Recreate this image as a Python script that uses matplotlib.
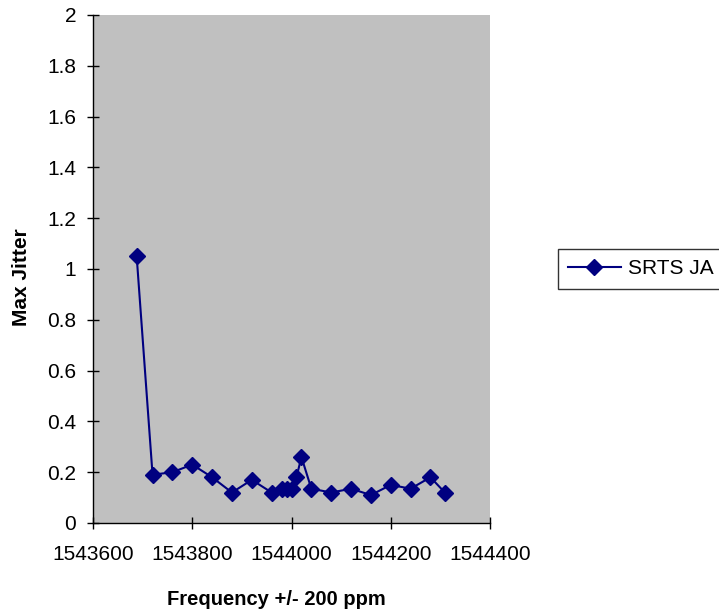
import matplotlib.pyplot as plt

plt.rcParams['font.family'] = ['Liberation Sans', 'DejaVu Sans']

# 주파수 (Hz) 와 최대 지터 값
freq = [1543688, 1543720, 1543760, 1543800, 1543840, 1543880, 1543920,
        1543960, 1543980, 1543990, 1544000, 1544010, 1544020, 1544040,
        1544080, 1544120, 1544160, 1544200, 1544240, 1544280, 1544309]
jitter = [1.05, 0.19, 0.20, 0.23, 0.18, 0.12, 0.17,
          0.12, 0.135, 0.135, 0.135, 0.18, 0.26, 0.135,
          0.12, 0.135, 0.11, 0.15, 0.135, 0.18, 0.12]
series_name = 'SRTS JA'

xticks = [1543600, 1543800, 1544000, 1544200, 1544400]
yticks = [0, 0.2, 0.4, 0.6, 0.8, 1, 1.2, 1.4, 1.6, 1.8, 2]
ytick_labels = ['0', '0.2', '0.4', '0.6', '0.8', '1', '1.2', '1.4', '1.6', '1.8', '2']

fig = plt.figure(figsize=(7.19, 6.15), dpi=100)
ax = fig.add_axes([93 / 719, 1 - 523 / 615, (490 - 93) / 719, (523 - 15) / 615])
ax.set_facecolor('#C0C0C0')

ax.plot(freq, jitter, color='#000080', lw=1.5, marker='D', ms=8,
        markerfacecolor='#000080', markeredgecolor='#000080', label=series_name)

ax.set_xlim(1543600, 1544400)
ax.set_ylim(0, 2)
ax.set_xticks(xticks)
ax.set_xticklabels([str(t) for t in xticks])
ax.set_yticks(yticks)
ax.set_yticklabels(ytick_labels)
ax.tick_params(direction='inout', length=8, width=1, labelsize=15, color='black')
ax.tick_params(axis='y', pad=8)
ax.tick_params(axis='x', pad=12)

for s in ['top', 'right']:
    ax.spines[s].set_visible(False)
for s in ['left', 'bottom']:
    ax.spines[s].set_color('black')
    ax.spines[s].set_linewidth(1)

ax.set_xlabel('Frequency +/- 200 ppm', fontsize=14.5, fontweight='bold')
ax.xaxis.set_label_coords(0.461, -0.132)
ax.set_ylabel('Max Jitter', fontsize=15, fontweight='bold')
ax.yaxis.set_label_coords(-0.155, 0.484)

leg = fig.legend(loc='center left', bbox_to_anchor=(558 / 719, 1 - 269 / 615),
                 fontsize=15, frameon=True, fancybox=False, edgecolor='black',
                 handlelength=2.5, handletextpad=0.35, borderpad=0.5,
                 borderaxespad=0)
leg.get_frame().set_linewidth(1)

fig.savefig('out.png', dpi=100)
